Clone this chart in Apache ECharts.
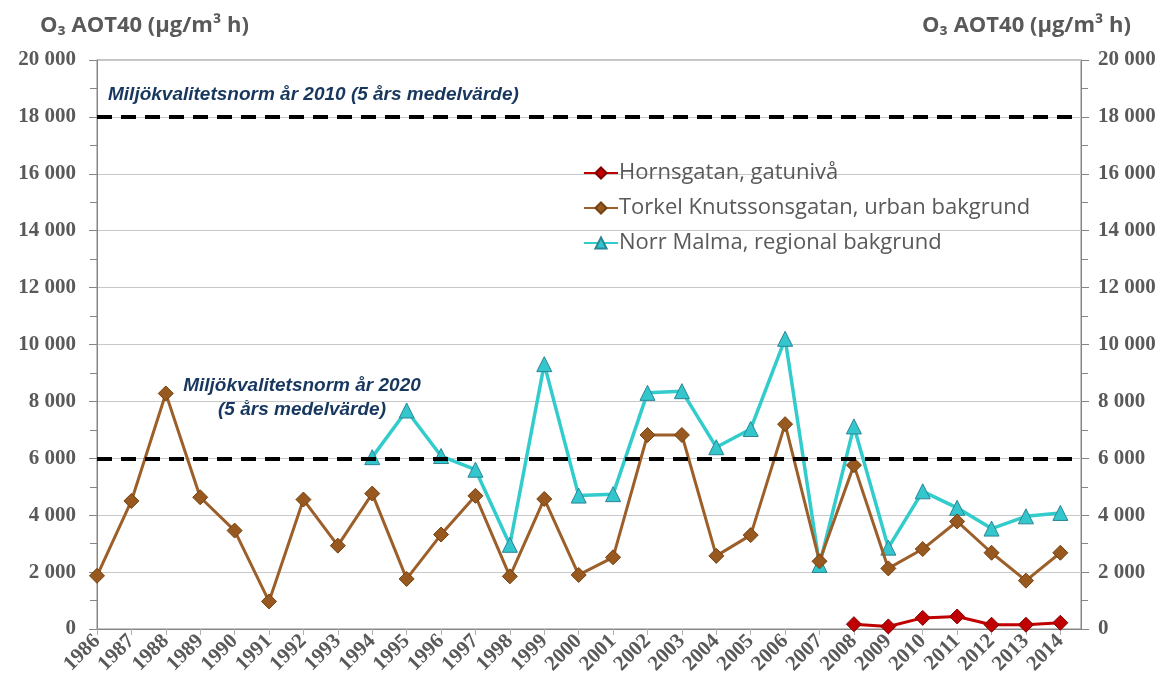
<!DOCTYPE html>
<html>
<head>
<meta charset="utf-8">
<title>O3 AOT40</title>
<script src="https://cdn.jsdelivr.net/npm/echarts@6/dist/echarts.min.js"></script>
<style>
  html, body { margin: 0; padding: 0; background: #fff; }
  #chart { width: 1165px; height: 684px; }
</style>
</head>
<body>
<div id="chart"></div>
<script>
// år
const years = [1986, 1987, 1988, 1989, 1990, 1991, 1992, 1993, 1994, 1995,
  1996, 1997, 1998, 1999, 2000, 2001, 2002, 2003, 2004, 2005,
  2006, 2007, 2008, 2009, 2010, 2011, 2012, 2013, 2014];

// Torkel Knutssonsgatan 1986-2014
const torkel = [1870, 4500, 8280, 4630, 3460, 970, 4550, 2930, 4760, 1760,
  3320, 4680, 1850, 4570, 1900, 2520, 6820, 6820, 2570, 3300,
  7200, 2380, 5760, 2130, 2810, 3780, 2680, 1700, 2680];

// Norr Malma 1994-2014
const norrMalmaStart = 1994;
const norrMalma = [6040, 7680, 6080, 5600, 2960, 9310, 4690, 4740, 8300, 8360,
  6390, 7030, 10200, 2250, 7120, 2860, 4840, 4260, 3530, 3960, 4080];

// Hornsgatan 2008-2014
const hornsStart = 2008;
const hornsgatan = [170, 90, 390, 440, 150, 150, 220];

const yTicks = [0, 2000, 4000, 6000, 8000, 10000, 12000, 14000, 16000, 18000, 20000];
const normLines = [18000, 6000];

const seriesNames = [
  "Hornsgatan, gatunivå",
  "Torkel Knutssonsgatan, urban bakgrund",
  "Norr Malma, regional bakgrund"
];

const toPairs = (start, values) => values.map((v, i) => [start + i, v]);

const grey = "#595959";
const axisGrey = "#868686";
const navy = "#17375e";

const fmtThousand = (v) => {
  if (v >= 1000) {
    const s = String(v);
    return s.slice(0, s.length - 3) + " " + s.slice(-3);
  }
  return String(v);
};

const chart = echarts.init(document.getElementById("chart"));

const yAxisBase = (margin) => ({
  type: "value",
  min: yTicks[0],
  max: yTicks[yTicks.length - 1],
  interval: yTicks[1] - yTicks[0],
  axisLine: { show: true, lineStyle: { color: axisGrey, width: 1 } },
  axisTick: { show: true, inside: false, length: 8, lineStyle: { color: axisGrey } },
  minorTick: { show: true, splitNumber: 2, length: 7, lineStyle: { color: axisGrey } },
  axisLabel: {
    color: grey,
    fontFamily: "Liberation Serif",
    fontWeight: "bold",
    fontSize: 21,
    margin: margin,
    formatter: fmtThousand
  }
});

const option = {
  animation: false,
  backgroundColor: "#fff",
  grid: {
    left: 97, right: 84, top: 60, bottom: 55,
    show: true, borderColor: axisGrey, borderWidth: 1
  },
  legend: {
    orient: "vertical",
    left: 578,
    top: 155,
    itemGap: 9,
    itemWidth: 34,
    itemHeight: 14,
    data: seriesNames,
    textStyle: { color: grey, fontFamily: "Open Sans", fontSize: 22, lineHeight: 26, padding: [0, 0, 0, -4] }
  },
  xAxis: {
    type: "value",
    min: years[0],
    max: years[years.length - 1] + 0.6,
    interval: 1,
    axisLine: { show: true, lineStyle: { color: axisGrey, width: 1 } },
    axisTick: { show: true, length: 6, lineStyle: { color: "#b0b0b0" } },
    splitLine: { show: false },
    axisLabel: {
      rotate: 45,
      margin: 9,
      showMaxLabel: false,
      color: grey,
      fontFamily: "Liberation Serif",
      fontWeight: "bold",
      fontSize: 21,
      formatter: (v) => (Number.isInteger(v) ? String(v) : "")
    }
  },
  yAxis: [
    Object.assign(yAxisBase(21), {
      position: "left",
      splitLine: { show: true, lineStyle: { color: "#c8c8c8", width: 1 } }
    }),
    Object.assign(yAxisBase(17), {
      position: "right",
      splitLine: { show: false }
    })
  ],
  graphic: [
    {
      type: "text", left: 40, top: 15,
      style: { text: "O₃ AOT40 (µg/m³ h)", fill: grey, font: "bold 22px 'Open Sans'" }
    },
    {
      type: "text", right: 34, top: 15,
      style: { text: "O₃ AOT40 (µg/m³ h)", fill: grey, font: "bold 22px 'Open Sans'" }
    },
    {
      type: "text", left: 108, top: 85,
      style: { text: "Miljökvalitetsnorm år 2010 (5 års medelvärde)", fill: navy, font: "italic bold 19px 'Liberation Sans'" }
    },
    {
      type: "text", x: 302, y: 374,
      style: {
        text: "Miljökvalitetsnorm år 2020\n(5 års medelvärde)",
        fill: navy, font: "italic bold 19px 'Liberation Sans'",
        align: "center", lineHeight: 24
      }
    }
  ],
  series: [
    {
      name: "norm",
      type: "line",
      data: [],
      z: 1,
      silent: true,
      markLine: {
        silent: true,
        symbol: "none",
        label: { show: false },
        lineStyle: { color: "#000", width: 4, type: [15, 9] },
        data: normLines.map((v) => ({ yAxis: v }))
      }
    },
    {
      name: seriesNames[0],
      type: "line",
      data: toPairs(hornsStart, hornsgatan),
      z: 4,
      symbol: "diamond",
      symbolSize: 15,
      lineStyle: { color: "#c00000", width: 3 },
      itemStyle: { color: "#c00000", borderColor: "#800000", borderWidth: 1 }
    },
    {
      name: seriesNames[1],
      type: "line",
      data: toPairs(years[0], torkel),
      z: 3,
      symbol: "diamond",
      symbolSize: 15,
      lineStyle: { color: "#9c5f2a", width: 3 },
      itemStyle: { color: "#97591f", borderColor: "#74410f", borderWidth: 1 }
    },
    {
      name: seriesNames[2],
      type: "line",
      data: toPairs(norrMalmaStart, norrMalma),
      z: 2,
      symbol: "triangle",
      symbolSize: 15,
      lineStyle: { color: "#33cccc", width: 3.5 },
      itemStyle: { color: "#33c6cc", borderColor: "#2a8595", borderWidth: 1 }
    }
  ]
};

chart.setOption(option);
</script>
</body>
</html>
